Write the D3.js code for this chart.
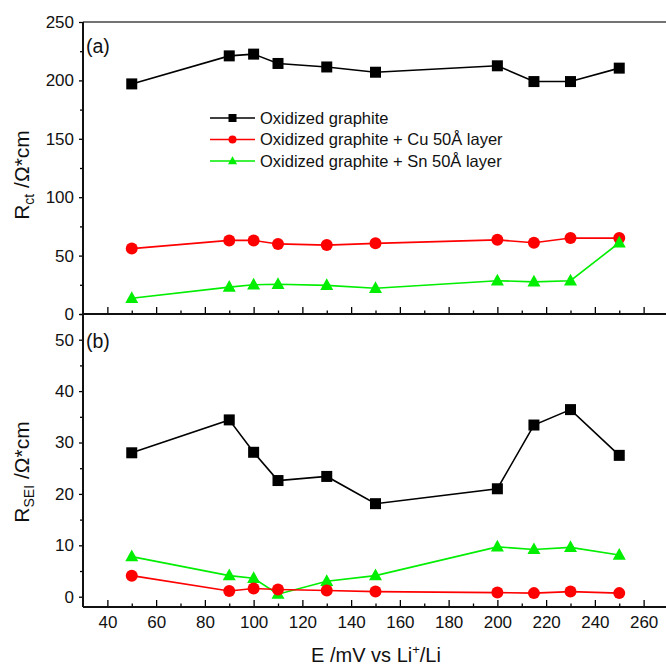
<!DOCTYPE html>
<html>
<head>
<meta charset="utf-8">
<script src="https://cdn.jsdelivr.net/npm/d3@7"></script>
<style>
  body { margin: 0; background: #fff; }
  svg { display: block; font-family: "Liberation Sans", Arial, sans-serif; }
</style>
</head>
<body>
<svg id="chart" width="666" height="667"></svg>
<script>
// potentials (mV vs Li+/Li)
const potentials = [50, 90, 100, 110, 130, 150, 200, 215, 230, 250];

// (a) charge-transfer resistance
const rctGraphite = [197, 221, 222.5, 214.5, 211.5, 207, 212.5, 199, 199, 210.5];
const rctCu = [56, 63, 63, 60, 59, 60.5, 63.5, 61, 65, 65];
const rctSn = [13.5, 23, 25, 25.5, 24.5, 22, 28.5, 27.5, 28.5, 61];

// (b) SEI resistance
const seiGraphite = [28, 34.4, 28.1, 22.6, 23.4, 18.1, 21, 33.4, 36.4, 27.5];
const seiCu = [4.1, 1.1, 1.6, 1.4, 1.2, 1.0, 0.8, 0.7, 1.0, 0.7];
const seiSn = [7.8, 4.1, 3.6, 0.5, 3.0, 4.1, 9.7, 9.2, 9.6, 8.1];

const seriesNames = [
  "Oxidized graphite",
  "Oxidized graphite + Cu 50\u00C5 layer",
  "Oxidized graphite + Sn 50\u00C5 layer"
];
const seriesColors = ["#000000", "#ff0000", "#00ee00"];
const seriesShapes = ["square", "circle", "triangle"];

const xTicks = [40, 60, 80, 100, 120, 140, 160, 180, 200, 220, 240, 260];
const rctTicks = [0, 50, 100, 150, 200, 250];
const seiTicks = [0, 10, 20, 30, 40, 50];

const svg = d3.select("#chart");
const left = 83, right = 668;
const FONT = "'Liberation Sans', Arial, sans-serif";

const x = d3.scaleLinear().domain([30, 270]).range([left, right]);
const yTop = d3.scaleLinear().domain([0, 250]).range([314, 22]);
const yBot = d3.scaleLinear().domain([-2, 55]).range([607, 314]);

function marker(g, shape, color, size) {
  if (shape === "square") {
    g.append("rect").attr("x", -size / 2).attr("y", -size / 2)
      .attr("width", size).attr("height", size).attr("fill", color);
  } else if (shape === "circle") {
    g.append("circle").attr("r", size / 2).attr("fill", color);
  } else {
    const h = size * 0.9;
    g.append("path")
      .attr("d", `M0,${-h * 0.6}L${size / 2},${h * 0.4}L${-size / 2},${h * 0.4}Z`)
      .attr("fill", color);
  }
}

function drawSeries(y, values, i) {
  const pts = potentials.map((p, k) => [p, values[k]]);
  svg.append("path")
    .datum(pts)
    .attr("fill", "none")
    .attr("stroke", seriesColors[i])
    .attr("stroke-width", 1.6)
    .attr("d", d3.line().x(d => x(d[0])).y(d => y(d[1])));
  const size = seriesShapes[i] === "square" ? 11 : (seriesShapes[i] === "circle" ? 12 : 13);
  pts.forEach(d => {
    const g = svg.append("g").attr("transform", `translate(${x(d[0])},${y(d[1])})`);
    marker(g, seriesShapes[i], seriesColors[i], size);
  });
}

// -------------------- axes --------------------
function leftAxis(y, ticks, minorStep) {
  const [d0, d1] = y.domain();
  const minors = d3.range(Math.ceil(d0 / minorStep) * minorStep, d1 + 0.001, minorStep)
    .filter(v => !ticks.includes(v));
  svg.append("g")
    .attr("transform", `translate(${left},0)`)
    .call(d3.axisLeft(y).tickValues(minors).tickSize(3).tickFormat(""))
    .call(g => g.select(".domain").remove())
    .call(g => g.selectAll("line").attr("stroke-width", 1.3));
  svg.append("g")
    .attr("transform", `translate(${left},0)`)
    .call(d3.axisLeft(y).tickValues(ticks).tickSize(4).tickPadding(5))
    .call(g => g.select(".domain").remove())
    .call(g => g.selectAll("line").attr("stroke-width", 1.3))
    .call(g => g.selectAll("text").attr("font-size", 17).attr("fill", "#111")
      .attr("font-family", FONT));
}

function bottomTicks(yPos, withLabels) {
  const minors = d3.range(50, 270, 20);
  svg.append("g")
    .attr("transform", `translate(0,${yPos})`)
    .call(d3.axisTop(x).tickValues(minors).tickSize(3.5).tickFormat(""))
    .call(g => g.select(".domain").remove())
    .call(g => g.selectAll("line").attr("stroke-width", 1.3));
  svg.append("g")
    .attr("transform", `translate(0,${yPos})`)
    .call(d3.axisTop(x).tickValues(xTicks).tickSize(7).tickFormat(""))
    .call(g => g.select(".domain").remove())
    .call(g => g.selectAll("line").attr("stroke-width", 1.3));
  if (withLabels) {
    svg.append("g")
      .attr("transform", `translate(0,${yPos})`)
      .call(d3.axisBottom(x).tickValues(xTicks).tickSize(0).tickPadding(9))
      .call(g => g.select(".domain").remove())
      .call(g => g.selectAll("text").attr("font-size", 17).attr("fill", "#111")
        .attr("font-family", FONT));
  }
}

leftAxis(yTop, rctTicks, 25);
leftAxis(yBot, seiTicks, 5);
bottomTicks(314, false);
bottomTicks(607, true);

// frame lines
svg.append("line").attr("x1", left).attr("x2", right).attr("y1", 22).attr("y2", 22)
  .attr("stroke", "#444").attr("stroke-width", 1.5);
svg.append("line").attr("x1", left).attr("x2", left).attr("y1", 22).attr("y2", 607)
  .attr("stroke", "#111").attr("stroke-width", 2);
svg.append("line").attr("x1", left).attr("x2", right).attr("y1", 314).attr("y2", 314)
  .attr("stroke", "#111").attr("stroke-width", 2);
svg.append("line").attr("x1", left).attr("x2", right).attr("y1", 607).attr("y2", 607)
  .attr("stroke", "#111").attr("stroke-width", 2);

// -------------------- data --------------------
drawSeries(yTop, rctGraphite, 0);
drawSeries(yTop, rctCu, 1);
drawSeries(yTop, rctSn, 2);
drawSeries(yBot, seiGraphite, 0);
drawSeries(yBot, seiSn, 2);
drawSeries(yBot, seiCu, 1);

// panel labels
svg.append("text").attr("x", 86).attr("y", 53).attr("font-size", 19.5).attr("fill", "#111").text("(a)");
svg.append("text").attr("x", 86).attr("y", 348).attr("font-size", 19.5).attr("fill", "#111").text("(b)");

// legend
const legend = svg.append("g").attr("transform", "translate(210,118)");
seriesNames.forEach((name, i) => {
  const row = legend.append("g").attr("transform", `translate(0,${i * 21.5})`);
  row.append("line").attr("x1", 0).attr("x2", 45).attr("stroke", seriesColors[i]).attr("stroke-width", 1.6);
  const m = row.append("g").attr("transform", "translate(22.5,0)");
  marker(m, seriesShapes[i], seriesColors[i], seriesShapes[i] === "triangle" ? 9 : 8);
  row.append("text").attr("x", 50).attr("dy", "0.36em").attr("font-size", 16.5).attr("fill", "#111").text(name);
});

// axis titles
const t1 = svg.append("text").attr("transform", "translate(29,175) rotate(-90)")
  .attr("text-anchor", "middle").attr("font-size", 21).attr("fill", "#111");
t1.append("tspan").text("R");
t1.append("tspan").attr("font-size", 14).attr("dy", 5).text("ct");
t1.append("tspan").attr("dy", -5).text(" /\u03A9*cm");

const t2 = svg.append("text").attr("transform", "translate(29,472) rotate(-90)")
  .attr("text-anchor", "middle").attr("font-size", 21).attr("fill", "#111");
t2.append("tspan").text("R");
t2.append("tspan").attr("font-size", 14).attr("dy", 5).text("SEI");
t2.append("tspan").attr("dy", -5).text(" /\u03A9*cm");

const t3 = svg.append("text").attr("x", 376).attr("y", 662)
  .attr("text-anchor", "middle").attr("font-size", 20).attr("fill", "#111");
t3.append("tspan").text("E /mV vs Li");
t3.append("tspan").attr("font-size", 13).attr("dy", -8).text("+");
t3.append("tspan").attr("dy", 8).text("/Li");
</script>
</body>
</html>
